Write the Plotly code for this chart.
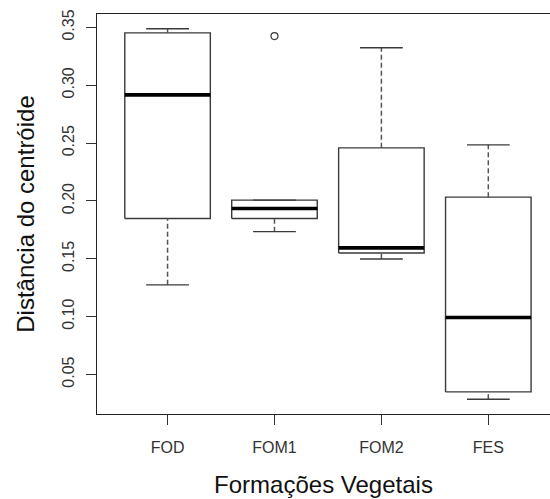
import plotly.graph_objects as go

categories = ["FOD", "FOM1", "FOM2", "FES"]
lower_whisker = [0.1275, 0.1735, 0.1499, 0.0287]
q1 = [0.1849, 0.1849, 0.1551, 0.0350]
median = [0.2917, 0.1935, 0.1595, 0.0993]
q3 = [0.3453, 0.2007, 0.2459, 0.2033]
upper_whisker = [0.3488, 0.2007, 0.3324, 0.2485]
outlier_group = ["FOM1"]
outlier_values = [0.3425]

y_ticks = [0.05, 0.10, 0.15, 0.20, 0.25, 0.30, 0.35]

BOX_HALF = 0.4
CAP_HALF = 0.2
box_col = "#3a3a3a"
wh_col = "#555555"

fig = go.Figure()
for i, name in enumerate(categories):
    x = i + 1
    # box
    fig.add_trace(go.Scatter(
        x=[x - BOX_HALF, x + BOX_HALF, x + BOX_HALF, x - BOX_HALF, x - BOX_HALF],
        y=[q1[i], q1[i], q3[i], q3[i], q1[i]],
        mode="lines", line=dict(color=box_col, width=1.4),
        fill="toself", fillcolor="white", hoverinfo="skip", showlegend=False))
    # whiskers dashed
    for a, b in ((lower_whisker[i], q1[i]), (q3[i], upper_whisker[i])):
        if b > a:
            fig.add_trace(go.Scatter(
                x=[x, x], y=[a, b], mode="lines",
                line=dict(color=wh_col, width=1.5, dash="5px,3px"),
                hoverinfo="skip", showlegend=False))
    # caps
    for v in (lower_whisker[i], upper_whisker[i]):
        fig.add_trace(go.Scatter(
            x=[x - CAP_HALF, x + CAP_HALF], y=[v, v], mode="lines",
            line=dict(color=box_col, width=1.4),
            hoverinfo="skip", showlegend=False))
    # median
    fig.add_trace(go.Scatter(
        x=[x - BOX_HALF, x + BOX_HALF], y=[median[i], median[i]], mode="lines",
        line=dict(color="black", width=3.6),
        hoverinfo="skip", showlegend=False))

fig.add_trace(go.Scatter(
    x=[categories.index(g) + 1 for g in outlier_group], y=outlier_values,
    mode="markers",
    marker=dict(symbol="circle-open", size=7, color=box_col, line=dict(width=1.2, color=box_col)),
    hoverinfo="skip", showlegend=False))

font_family = "Liberation Sans, Arial, sans-serif"

fig.update_layout(
    width=550, height=499,
    margin=dict(l=97, r=0, t=14, b=85),
    paper_bgcolor="white", plot_bgcolor="white",
    font=dict(family=font_family, color="#222"),
    xaxis=dict(
        range=[0.34, 4.577],
        tickvals=[1, 2, 3, 4], ticktext=categories,
        ticks="outside", ticklen=10, tickwidth=1.4, tickcolor="#333",
        ticklabelstandoff=9,
        showline=True, mirror=True, linecolor="#222", linewidth=1.4,
        showgrid=False, zeroline=False,
        tickfont=dict(size=16, color="#333"),
        title=dict(text="Formações Vegetais", font=dict(size=24, color="#111"), standoff=20),
    ),
    yaxis=dict(
        range=[0.0159, 0.3616],
        tickvals=y_ticks, tickformat=".2f", tickangle=-90,
        ticks="outside", ticklen=10, tickwidth=1.4, tickcolor="#333",
        ticklabelstandoff=5,
        showline=True, mirror=False, linecolor="#222", linewidth=1.4,
        showgrid=False, zeroline=False,
        tickfont=dict(size=16, color="#333"),
        title=dict(text="Distância do centróide", font=dict(size=24, color="#111"), standoff=19),
    ),
)

fig.write_html("out.html")
